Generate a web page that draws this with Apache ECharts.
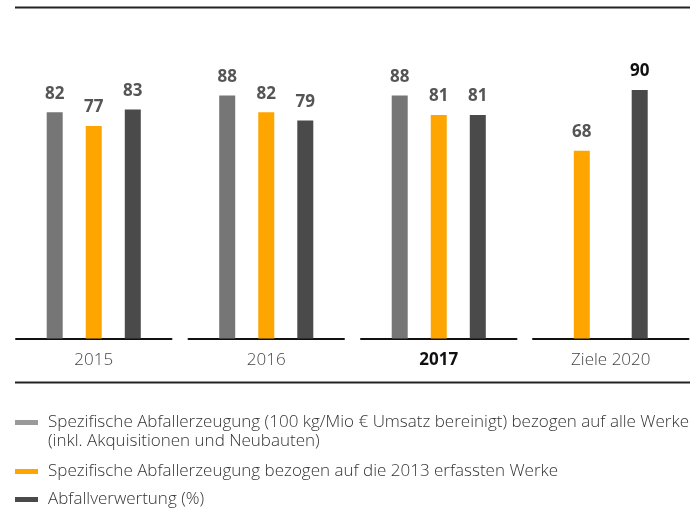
<!DOCTYPE html>
<html><head><meta charset="utf-8">
<script src="https://cdn.jsdelivr.net/npm/echarts@6/dist/echarts.min.js"></script>
<style>html,body{margin:0;padding:0;background:#fff}#c{width:700px;height:509px}</style>
</head><body><div id="c"></div>
<script>
var categories = ['2015', '2016', '2017', 'Ziele 2020'];
var seriesNames = [
  'Spezifische Abfallerzeugung (100 kg/Mio € Umsatz bereinigt) bezogen auf alle Werke',
  'Spezifische Abfallerzeugung bezogen auf die 2013 erfassten Werke',
  'Abfallverwertung (%)'
];
var legendSecondLine = '(inkl. Akquisitionen und Neubauten)';
var specAll = [82, 88, 88, null];
var spec2013 = [77, 82, 81, 68];
var verwertung = [83, 79, 81, 90];

var values = [specAll, spec2013, verwertung];
var colors = ['#767676', '#FFA500', '#4A4A4A'];
var legendColors = ['#9a9a9a', '#FFA500', '#4A4A4A'];
var FONT = "'Open Sans', 'Noto Sans', sans-serif";

var gridLefts = [16, 188.5, 361, 533];
var gridW = 155.5;
var grids = [], xAxes = [], yAxes = [], series = [];
categories.forEach(function (cat, g) {
  grids.push({ left: gridLefts[g], width: gridW, top: 62.5, bottom: 170.5 });
  var bold = cat === '2017';
  xAxes.push({
    type: 'category', gridIndex: g, data: [cat],
    axisLine: { lineStyle: { color: '#111', width: 2 } },
    axisTick: { show: false },
    axisLabel: { fontSize: 17, margin: 13, color: bold ? '#111' : '#444',
      fontWeight: bold ? 'bold' : 300, fontFamily: FONT }
  });
  yAxes.push({ type: 'value', gridIndex: g, min: 0, max: 100, show: false, splitLine: { show: false } });
  var present = [];
  values.forEach(function (arr, s) { if (arr[g] != null) present.push(s); });
  present.forEach(function (s) {
    var isTarget = cat === 'Ziele 2020' && s === 2;
    series.push({
      type: 'bar', name: seriesNames[s], xAxisIndex: g, yAxisIndex: g,
      data: [values[s][g]],
      barWidth: 16,
      barGap: present.length === 3 ? '144%' : '262%',
      itemStyle: { color: colors[s] },
      label: { show: true, position: 'top', distance: 10, fontSize: 17, fontWeight: 'bold',
        fontFamily: FONT, color: isTarget ? '#111' : '#555' }
    });
  });
});

var legendTops = [414, 463, 491];
var legends = seriesNames.map(function (n, i) {
  return {
    left: 15, top: legendTops[i], padding: 0, selectedMode: false,
    itemWidth: 23, itemHeight: 5, icon: 'path://M0,0H23V5H0Z',
    data: [{ name: n, itemStyle: { color: legendColors[i] } }],
    textStyle: { fontSize: 17, color: '#333', fontFamily: FONT, fontWeight: 300, padding: [0, 0, 0, 5] }
  };
});

var chart = echarts.init(document.getElementById('c'));
chart.setOption({
  animation: false,
  grid: grids, xAxis: xAxes, yAxis: yAxes, series: series,
  legend: legends,
  graphic: [
    { type: 'line', shape: { x1: 15, y1: 7.5, x2: 690, y2: 7.5 }, style: { stroke: '#222', lineWidth: 2 } },
    { type: 'line', shape: { x1: 15, y1: 382.5, x2: 690, y2: 382.5 }, style: { stroke: '#222', lineWidth: 2 } },
    { type: 'text', left: 48, top: 433, style: { text: legendSecondLine, fontSize: 17, fill: '#333',
      fontFamily: FONT, fontWeight: 300 } }
  ]
});
</script></body></html>
